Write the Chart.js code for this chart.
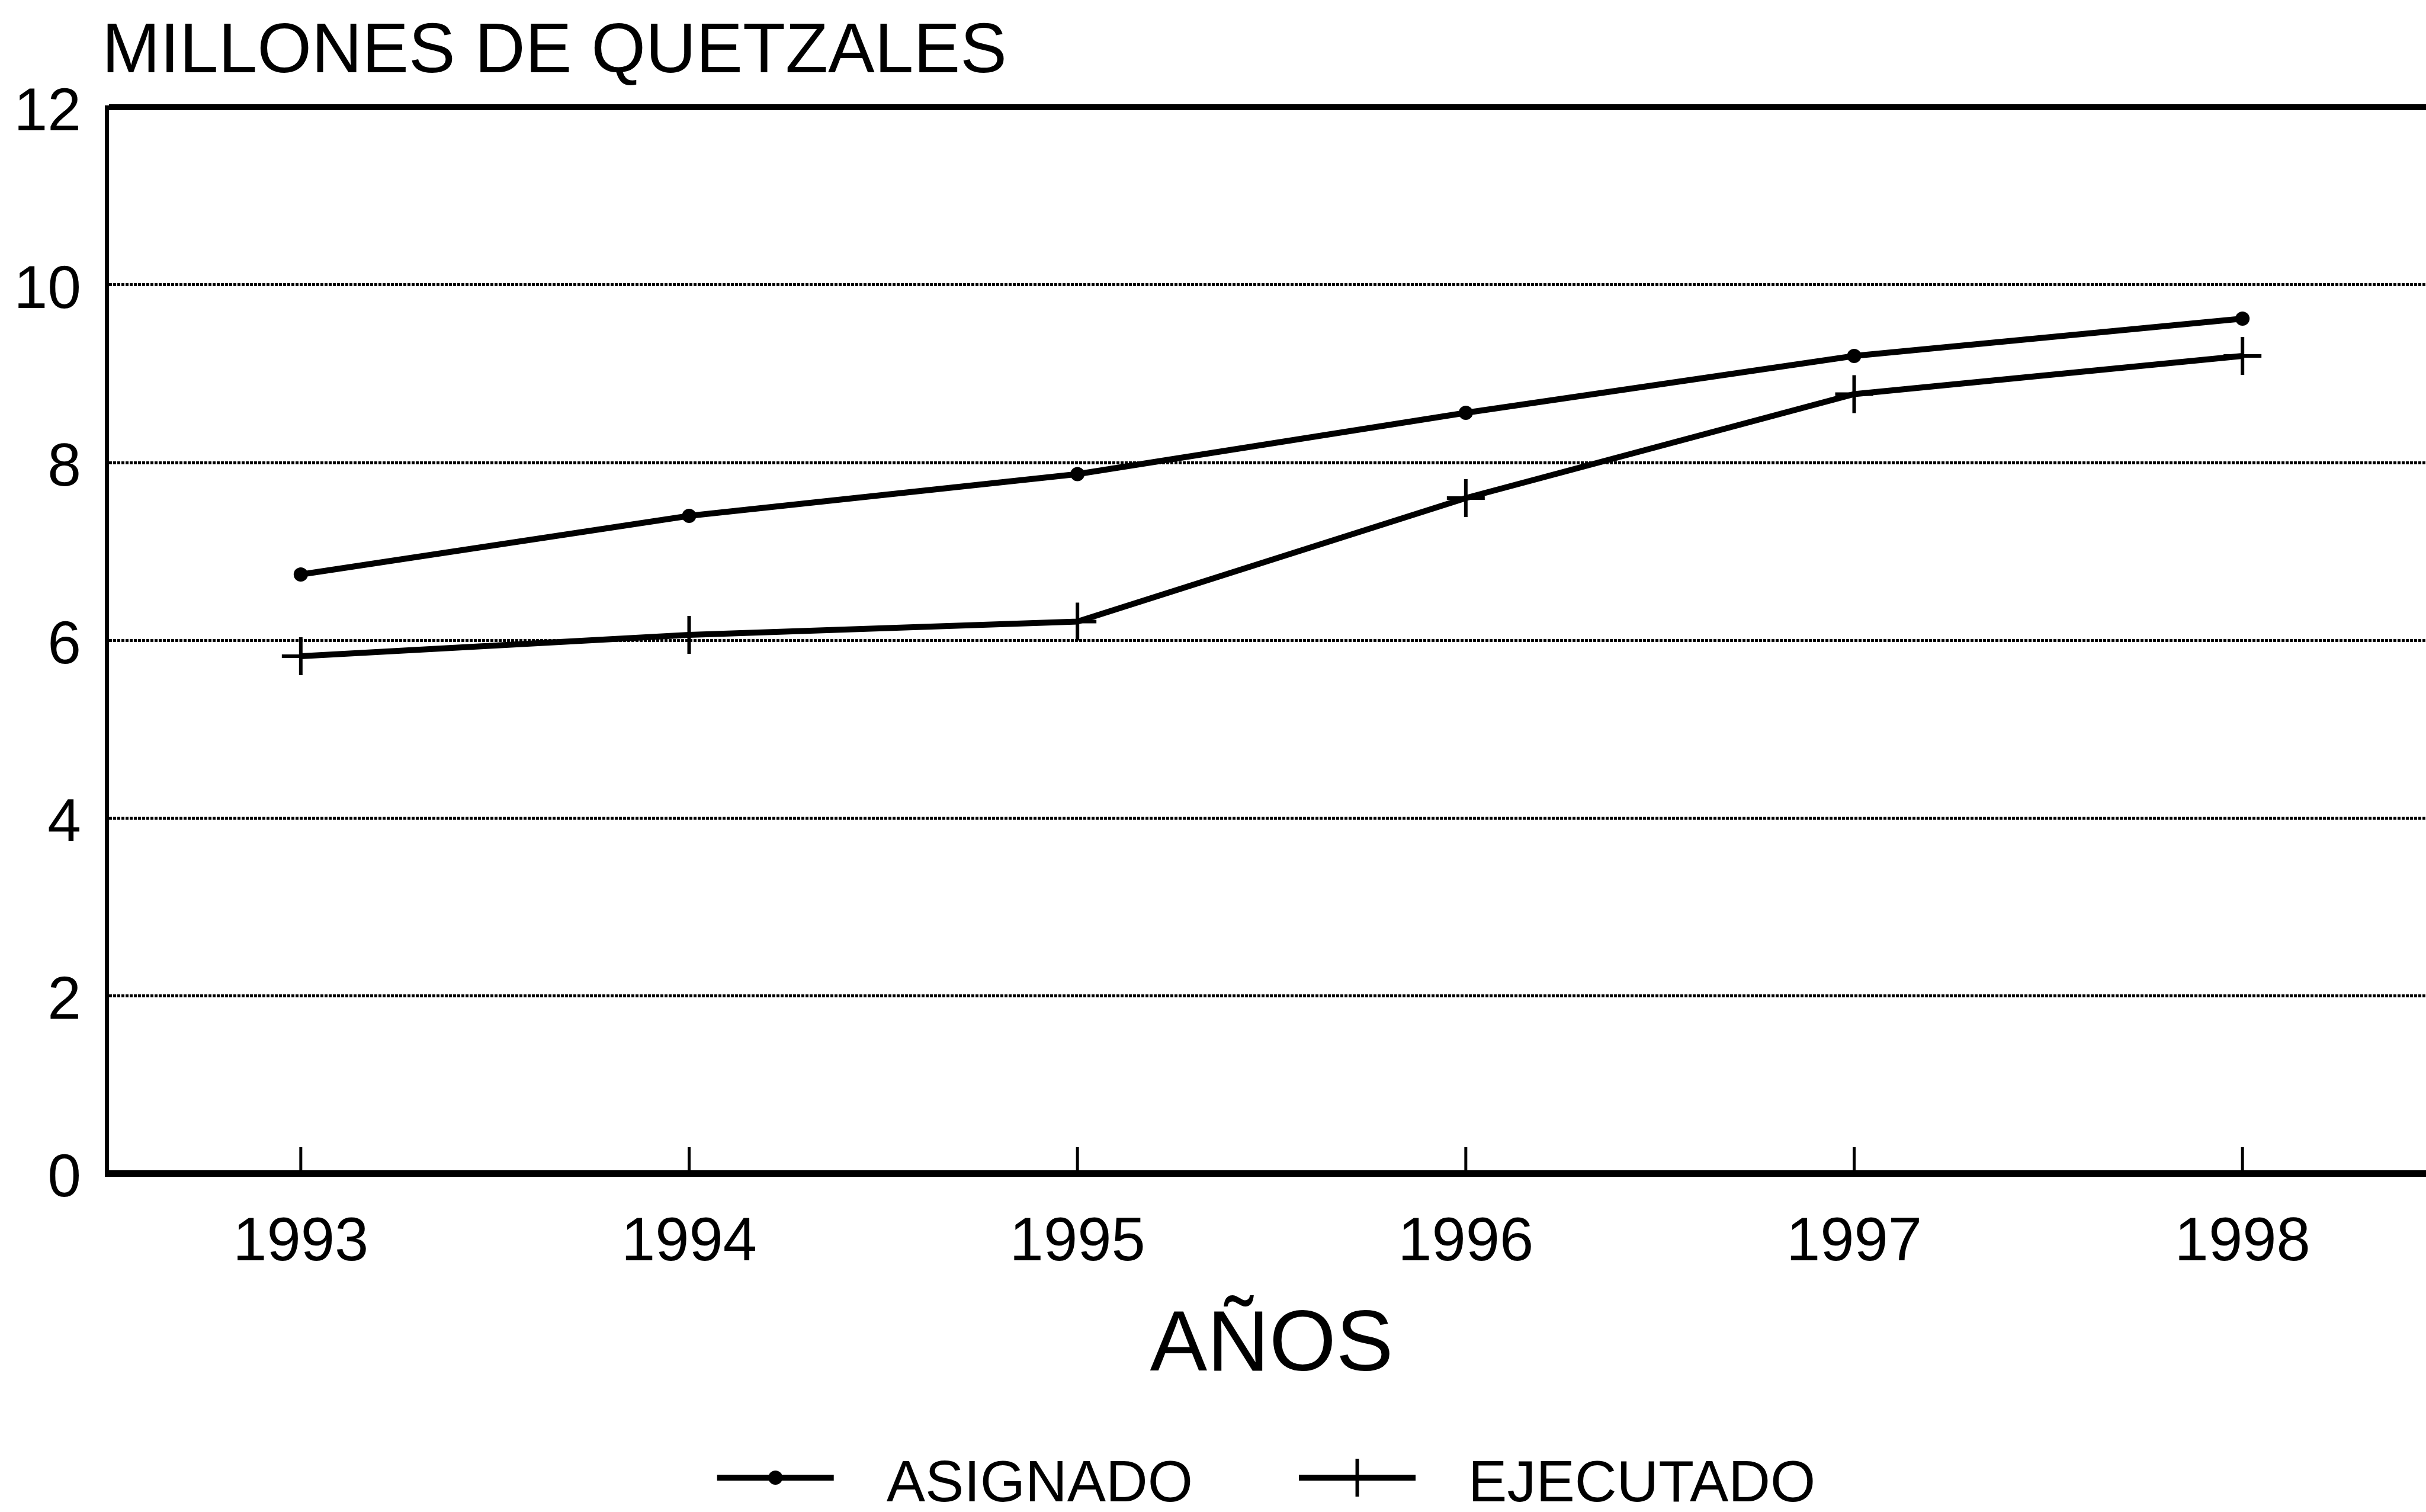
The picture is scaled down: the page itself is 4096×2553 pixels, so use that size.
<!DOCTYPE html>
<html lang="es">
<head>
<meta charset="utf-8">
<title>Asignado vs Ejecutado</title>
<script src="https://cdn.jsdelivr.net/npm/chart.js@4.4.1/dist/chart.umd.min.js"></script>
<style>
  html, body { margin: 0; padding: 0; background: #fff; overflow: hidden; }
  canvas { display: block; }
</style>
</head>
<body>
<!-- el grafico original continua un poco mas alla del borde derecho -->
<canvas id="chartPresupuesto" width="4114" height="2553"></canvas>
<script>
// Datos (millones de quetzales)
const anios = ['1993', '1994', '1995', '1996', '1997', '1998'];
const asignado = [6.74, 7.40, 7.87, 8.56, 9.20, 9.62];
const ejecutado = [5.82, 6.06, 6.21, 7.60, 8.77, 9.20];
const ticksY = [0, 2, 4, 6, 8, 10, 12];

const FUENTE = "'Liberation Sans', Arial, Helvetica, sans-serif";

// Titulo del eje Y, horizontal arriba a la izquierda
const tituloEjeY = {
    id: 'tituloEjeY',
    afterDraw(chart) {
        const ctx = chart.ctx;
        ctx.save();
        ctx.fillStyle = '#000';
        ctx.font = `118px ${FUENTE}`;
        ctx.textBaseline = 'alphabetic';
        ctx.textAlign = 'left';
        ctx.fillText('MILLONES DE QUETZALES', chart.chartArea.left - 8, 122);
        ctx.restore();
    }
};

// Marcas cortas hacia dentro sobre el eje X
const marcasInternas = {
    id: 'marcasInternas',
    afterDatasetsDraw(chart) {
        const { ctx, chartArea } = chart;
        const x = chart.scales.x;
        ctx.save();
        ctx.strokeStyle = '#000';
        ctx.lineWidth = 5;
        x.ticks.forEach((t, i) => {
            const px = x.getPixelForTick(i);
            ctx.beginPath();
            ctx.moveTo(px, chartArea.bottom);
            ctx.lineTo(px, chartArea.bottom - 44);
            ctx.stroke();
        });
        ctx.restore();
    }
};

// Leyenda: linea con marcador + texto
const leyenda = {
    id: 'leyenda',
    afterDraw(chart) {
        const { ctx, chartArea } = chart;
        const largo = 197, sepTexto = 89, sepItem = 179;
        ctx.save();
        ctx.font = `98px ${FUENTE}`;
        const items = chart.data.datasets.map(ds => ({ ds, w: ctx.measureText(ds.label).width }));
        const total = items.reduce((a, it) => a + largo + sepTexto + it.w, 0) + sepItem * (items.length - 1);
        let x = (chartArea.left + chartArea.right) / 2 - total / 2 - 9;
        const yTexto = chart.height - 45;
        const yLinea = chart.height - 58;
        items.forEach(({ ds, w }) => {
            ctx.strokeStyle = '#000';
            ctx.fillStyle = '#000';
            ctx.lineWidth = ds.borderWidth;
            ctx.beginPath();
            ctx.moveTo(x, yLinea);
            ctx.lineTo(x + largo, yLinea);
            ctx.stroke();
            const cx = x + largo / 2;
            if (ds.pointStyle === 'circle') {
                ctx.beginPath();
                ctx.arc(cx, yLinea, ds.pointRadius, 0, Math.PI * 2);
                ctx.fill();
            } else {
                ctx.lineWidth = ds.pointBorderWidth;
                ctx.beginPath();
                ctx.moveTo(cx, yLinea - ds.pointRadius);
                ctx.lineTo(cx, yLinea + ds.pointRadius);
                ctx.stroke();
            }
            ctx.textBaseline = 'middle';
            ctx.textAlign = 'left';
            ctx.fillText(ds.label, x + largo + sepTexto, yTexto);
            x += largo + sepTexto + w + sepItem;
        });
        ctx.restore();
    }
};

const esBorde = v => v === 0 || v === 12;

new Chart(document.getElementById('chartPresupuesto'), {
    type: 'line',
    data: {
        labels: anios,
        datasets: [
            {
                label: 'ASIGNADO',
                data: asignado,
                borderColor: '#000',
                borderWidth: 10,
                tension: 0,
                pointStyle: 'circle',
                pointRadius: 12,
                pointBackgroundColor: '#000',
                pointBorderColor: '#000',
                pointBorderWidth: 0
            },
            {
                label: 'EJECUTADO',
                data: ejecutado,
                borderColor: '#000',
                borderWidth: 10,
                tension: 0,
                pointStyle: 'cross',
                pointRadius: 32,
                pointBorderColor: '#000',
                pointBorderWidth: 6
            }
        ]
    },
    options: {
        responsive: false,
        animation: false,
        devicePixelRatio: 1,
        layout: {
            autoPadding: false,
            padding: { top: 181, right: 0, bottom: 206, left: 0 }
        },
        plugins: {
            legend: { display: false },
            tooltip: { enabled: false },
            title: { display: false }
        },
        scales: {
            x: {
                type: 'category',
                offset: true,
                grid: { display: false },
                border: { display: false },
                ticks: {
                    color: '#000',
                    padding: 49,
                    maxRotation: 0,
                    font: { family: FUENTE, size: 103 }
                },
                title: {
                    display: true,
                    text: 'AÑOS',
                    color: '#000',
                    font: { family: FUENTE, size: 145, lineHeight: 1 },
                    padding: { top: 0, bottom: 0 }
                },
                afterFit: s => { s.height = 366; }
            },
            y: {
                min: 0,
                max: 12,
                afterBuildTicks: s => { s.ticks = ticksY.map(v => ({ value: v })); },
                grid: {
                    drawTicks: false,
                    color: '#000',
                    lineWidth: c => c.tick.value === 0 ? 11 : (c.tick.value === 12 ? 10 : 5)
                },
                border: {
                    display: true,
                    width: 7,
                    color: '#000',
                    dash: c => (c.tick && !esBorde(c.tick.value)) ? [5, 2] : []
                },
                ticks: {
                    color: '#000',
                    padding: 43,
                    labelOffset: 11,
                    font: { family: FUENTE, size: 102 }
                },
                afterFit: s => { s.width = 180; }
            }
        }
    },
    plugins: [tituloEjeY, marcasInternas, leyenda]
});
</script>
</body>
</html>
